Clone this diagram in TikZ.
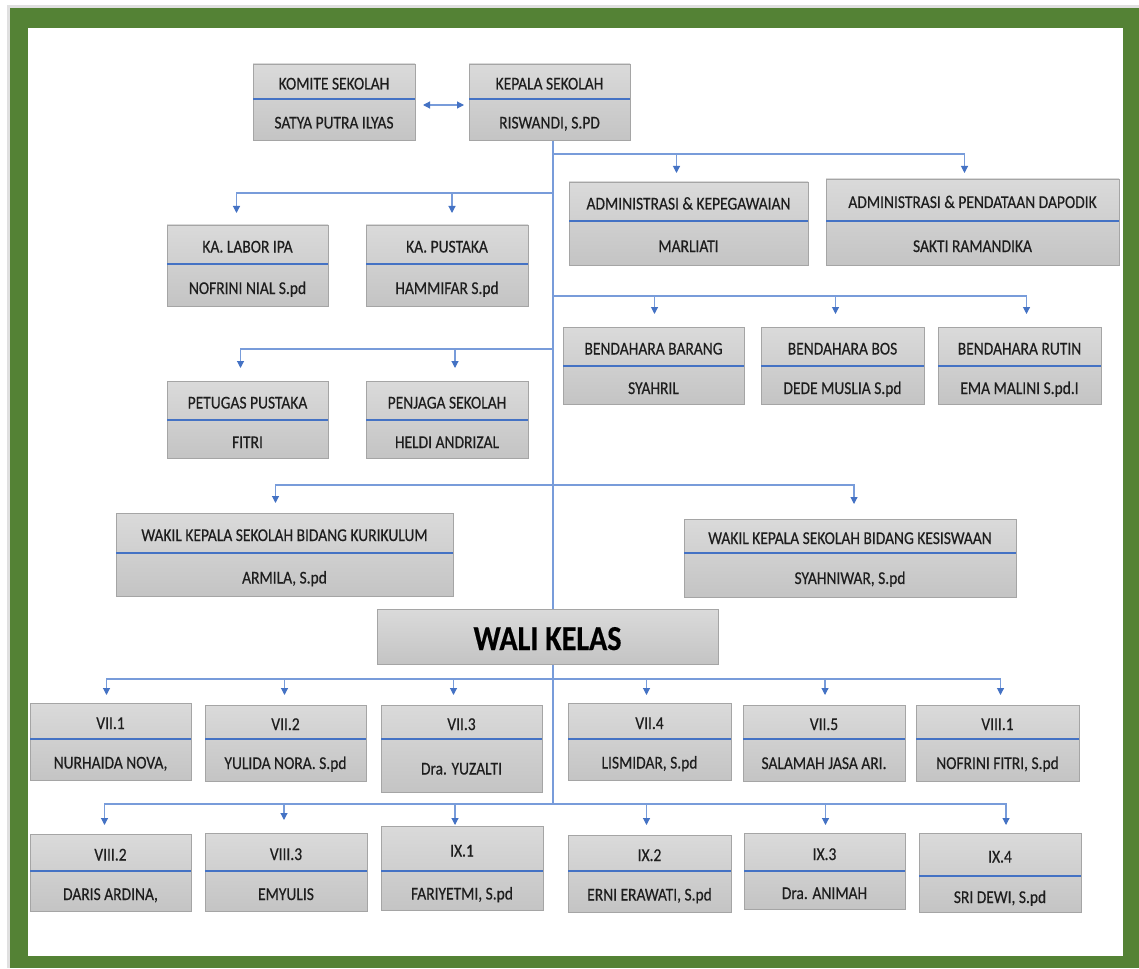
\documentclass[tikz,border=0pt]{standalone}
\usepackage{fontspec}
\setmainfont{Carlito}[FakeStretch=0.86, FakeBold=0.4]
\usetikzlibrary{arrows.meta,shadows}
\definecolor{framegreen}{RGB}{84,130,53}
\definecolor{sepblue}{RGB}{68,114,196}
\definecolor{linkblue}{RGB}{120,156,218}
\definecolor{boxtop}{RGB}{218,218,218}
\definecolor{boxbot}{RGB}{196,196,196}
\definecolor{boxedge}{RGB}{165,165,165}
\definecolor{txt}{RGB}{30,30,30}
\pgfdeclarelayer{back}
\pgfdeclarelayer{bg}
\pgfsetlayers{back,bg,main}
\tikzset{
  obox/.style={draw=boxedge, line width=0.8pt, top color=boxtop, bottom color=boxbot,
    rectangle, inner sep=0pt, outer sep=0pt,
    drop shadow={opacity=0.18, shadow xshift=1.2pt, shadow yshift=-1.2pt}},
  sepline/.style={draw=sepblue, line width=2pt},
  lbl/.style={anchor=base, inner sep=0pt, text=txt, font=\fontsize{18}{20}\selectfont},
  conn/.style={draw=linkblue, line width=1.1pt, -{Triangle[width=7pt,length=7pt,color=sepblue]}},
  link/.style={draw=linkblue, line width=1.1pt},
  dbl/.style={draw=linkblue, line width=1.1pt,
    {Triangle[width=7pt,length=7pt,color=sepblue]}-{Triangle[width=7pt,length=7pt,color=sepblue]}}
}
% name, x1, y1, x2, y2, separator y, top text, bottom text
\newcommand\obox[8]{%
  \node[obox, minimum width={#4-#2}, minimum height={#5-#3}, anchor=north west] (#1) at (#2,#3) {};
  \draw[sepline] (#2,#6) -- (#4,#6);
  \node[lbl] (#1-t) at ({(#2+#4)/2},{(#3+#6)/2+8}) {#7};
  \node[lbl] (#1-b) at ({(#2+#4)/2},{(#6+#5)/2+9}) {#8};
}
\begin{document}
\begin{tikzpicture}[x=1pt,y=-1pt]
\useasboundingbox (0,0) rectangle (1139,968);
% frame
\begin{pgfonlayer}{back}
\fill[black!12] (7,5) rectangle (1139,968);
\fill[framegreen] (10,8) rectangle (1139,968);
\fill[white] (28,28) rectangle (1123,956);
\end{pgfonlayer}

% boxes
\obox{komite}{253}{64}{415}{140}{99}{KOMITE SEKOLAH}{SATYA PUTRA ILYAS}
\obox{kepala}{469}{64}{630}{140}{99}{KEPALA SEKOLAH}{RISWANDI, S.PD}
\obox{adm1}{569}{182}{808}{265}{221}{ADMINISTRASI \& KEPEGAWAIAN}{MARLIATI}
\obox{adm2}{826}{179}{1119}{265}{221}{ADMINISTRASI \& PENDATAAN DAPODIK}{SAKTI RAMANDIKA}
\obox{labor}{167}{225}{328}{306}{264}{KA. LABOR IPA}{NOFRINI NIAL S.pd}
\obox{pust}{366}{225}{528}{306}{264}{KA. PUSTAKA}{HAMMIFAR S.pd}
\obox{barang}{563}{327}{744}{404}{366}{BENDAHARA BARANG}{SYAHRIL}
\obox{bos}{761}{327}{924}{404}{366}{BENDAHARA BOS}{DEDE MUSLIA S.pd}
\obox{rutin}{938}{327}{1101}{404}{366}{BENDAHARA RUTIN}{EMA MALINI S.pd.I}
\obox{petugas}{167}{381}{328}{458}{420}{PETUGAS PUSTAKA}{FITRI}
\obox{penjaga}{366}{381}{528}{458}{420}{PENJAGA SEKOLAH}{HELDI ANDRIZAL}
\obox{kurik}{116}{513}{453}{596}{553}{WAKIL KEPALA SEKOLAH BIDANG KURIKULUM}{ARMILA, S.pd}
\obox{kesis}{684}{519}{1016}{597}{553}{WAKIL KEPALA SEKOLAH BIDANG KESISWAAN}{SYAHNIWAR, S.pd}
\node[obox, minimum width=341, minimum height=55, anchor=north west] (wali) at (377,609) {};
\node[anchor=base, inner sep=0pt, text=black, font=\fontsize{35}{38}\selectfont\bfseries] (wali-t) at (547.5,650) {WALI KELAS};
\obox{c71}{30}{703}{191}{780}{739}{VII.1}{NURHAIDA NOVA,}
\obox{c72}{205}{705}{366}{781}{739}{VII.2}{YULIDA NORA. S.pd}
\obox{c73}{381}{705}{542}{792}{739}{VII.3}{Dra. YUZALTI}
\obox{c74}{568}{703}{731}{780}{739}{VII.4}{LISMIDAR, S.pd}
\obox{c75}{743}{705}{905}{781}{739}{VII.5}{SALAMAH JASA ARI.}
\obox{c81}{916}{705}{1079}{781}{739}{VIII.1}{NOFRINI FITRI, S.pd}
\obox{c82}{30}{834}{191}{911}{871}{VIII.2}{DARIS ARDINA,}
\obox{c83}{205}{833}{367}{911}{871}{VIII.3}{EMYULIS}
\obox{c91}{381}{826}{543}{910}{871}{IX.1}{FARIYETMI, S.pd}
\obox{c92}{568}{835}{731}{912}{871}{IX.2}{ERNI ERAWATI, S.pd}
\obox{c93}{744}{833}{905}{909}{871}{IX.3}{Dra. ANIMAH}
\obox{c94}{919}{833}{1081}{912}{876}{IX.4}{SRI DEWI, S.pd}

% connectors
\begin{pgfonlayer}{bg}
\coordinate (top) at ([xshift=3.5pt]kepala.south);
\coordinate (j1) at (553,154);
\coordinate (j2) at (553,193);
\coordinate (j3) at (553,296);
\coordinate (j4) at (553,349);
\coordinate (j5) at (553,485);
\coordinate (j6) at (553,679);
\coordinate (j7) at (553,804);
\draw[link] (top) -- (j7);
\draw[conn, shorten >=9pt] (j1) -| ([xshift=-12pt]adm1.north);
\draw[conn, shorten >=6pt] (j1) -| ([xshift=-8pt]adm2.north);
\draw[conn, shorten >=12pt] (j2) -| ([xshift=-11pt]labor.north);
\draw[conn, shorten >=12pt] (j2) -| ([xshift=5pt]pust.north);
\draw[conn, shorten >=13pt] (j3) -| ([xshift=1pt]barang.north);
\draw[conn, shorten >=13pt] (j3) -| ([xshift=-7pt]bos.north);
\draw[conn, shorten >=13pt] (j3) -| ([xshift=7pt]rutin.north);
\draw[conn, shorten >=13pt] (j4) -| ([xshift=-7pt]petugas.north);
\draw[conn, shorten >=13pt] (j4) -| ([xshift=8pt]penjaga.north);
\draw[conn, shorten >=10pt] (j5) -| ([xshift=-9pt]kurik.north);
\draw[conn, shorten >=15pt] (j5) -| ([xshift=4pt]kesis.north);
\draw[conn, shorten >=8pt] (j6) -| ([xshift=-4pt]c71.north);
\draw[conn, shorten >=10pt] (j6) -| ([xshift=-1pt]c72.north);
\draw[conn, shorten >=10pt] (j6) -| ([xshift=-8pt]c73.north);
\draw[conn, shorten >=8pt] (j6) -| ([xshift=-3pt]c74.north);
\draw[conn, shorten >=10pt] (j6) -| ([xshift=1pt]c75.north);
\draw[conn, shorten >=10pt] (j6) -| ([xshift=3pt]c81.north);
\draw[conn, shorten >=9pt] (j7) -| ([xshift=-6pt]c82.north);
\draw[conn, shorten >=13pt] (j7) -| ([xshift=-2pt]c83.north);
\draw[conn, shorten >=1pt] (j7) -| ([xshift=-7pt]c91.north);
\draw[conn, shorten >=10pt] (j7) -| ([xshift=-3pt]c92.north);
\draw[conn, shorten >=8pt] (j7) -| ([xshift=1pt]c93.north);
\draw[conn, shorten >=8pt] (j7) -| ([xshift=6pt]c94.north);
\end{pgfonlayer}
\draw[dbl, shorten <=8pt, shorten >=5pt] ([yshift=-3pt]komite.east) -- ([yshift=-3pt]kepala.west);
\end{tikzpicture}
\end{document}
